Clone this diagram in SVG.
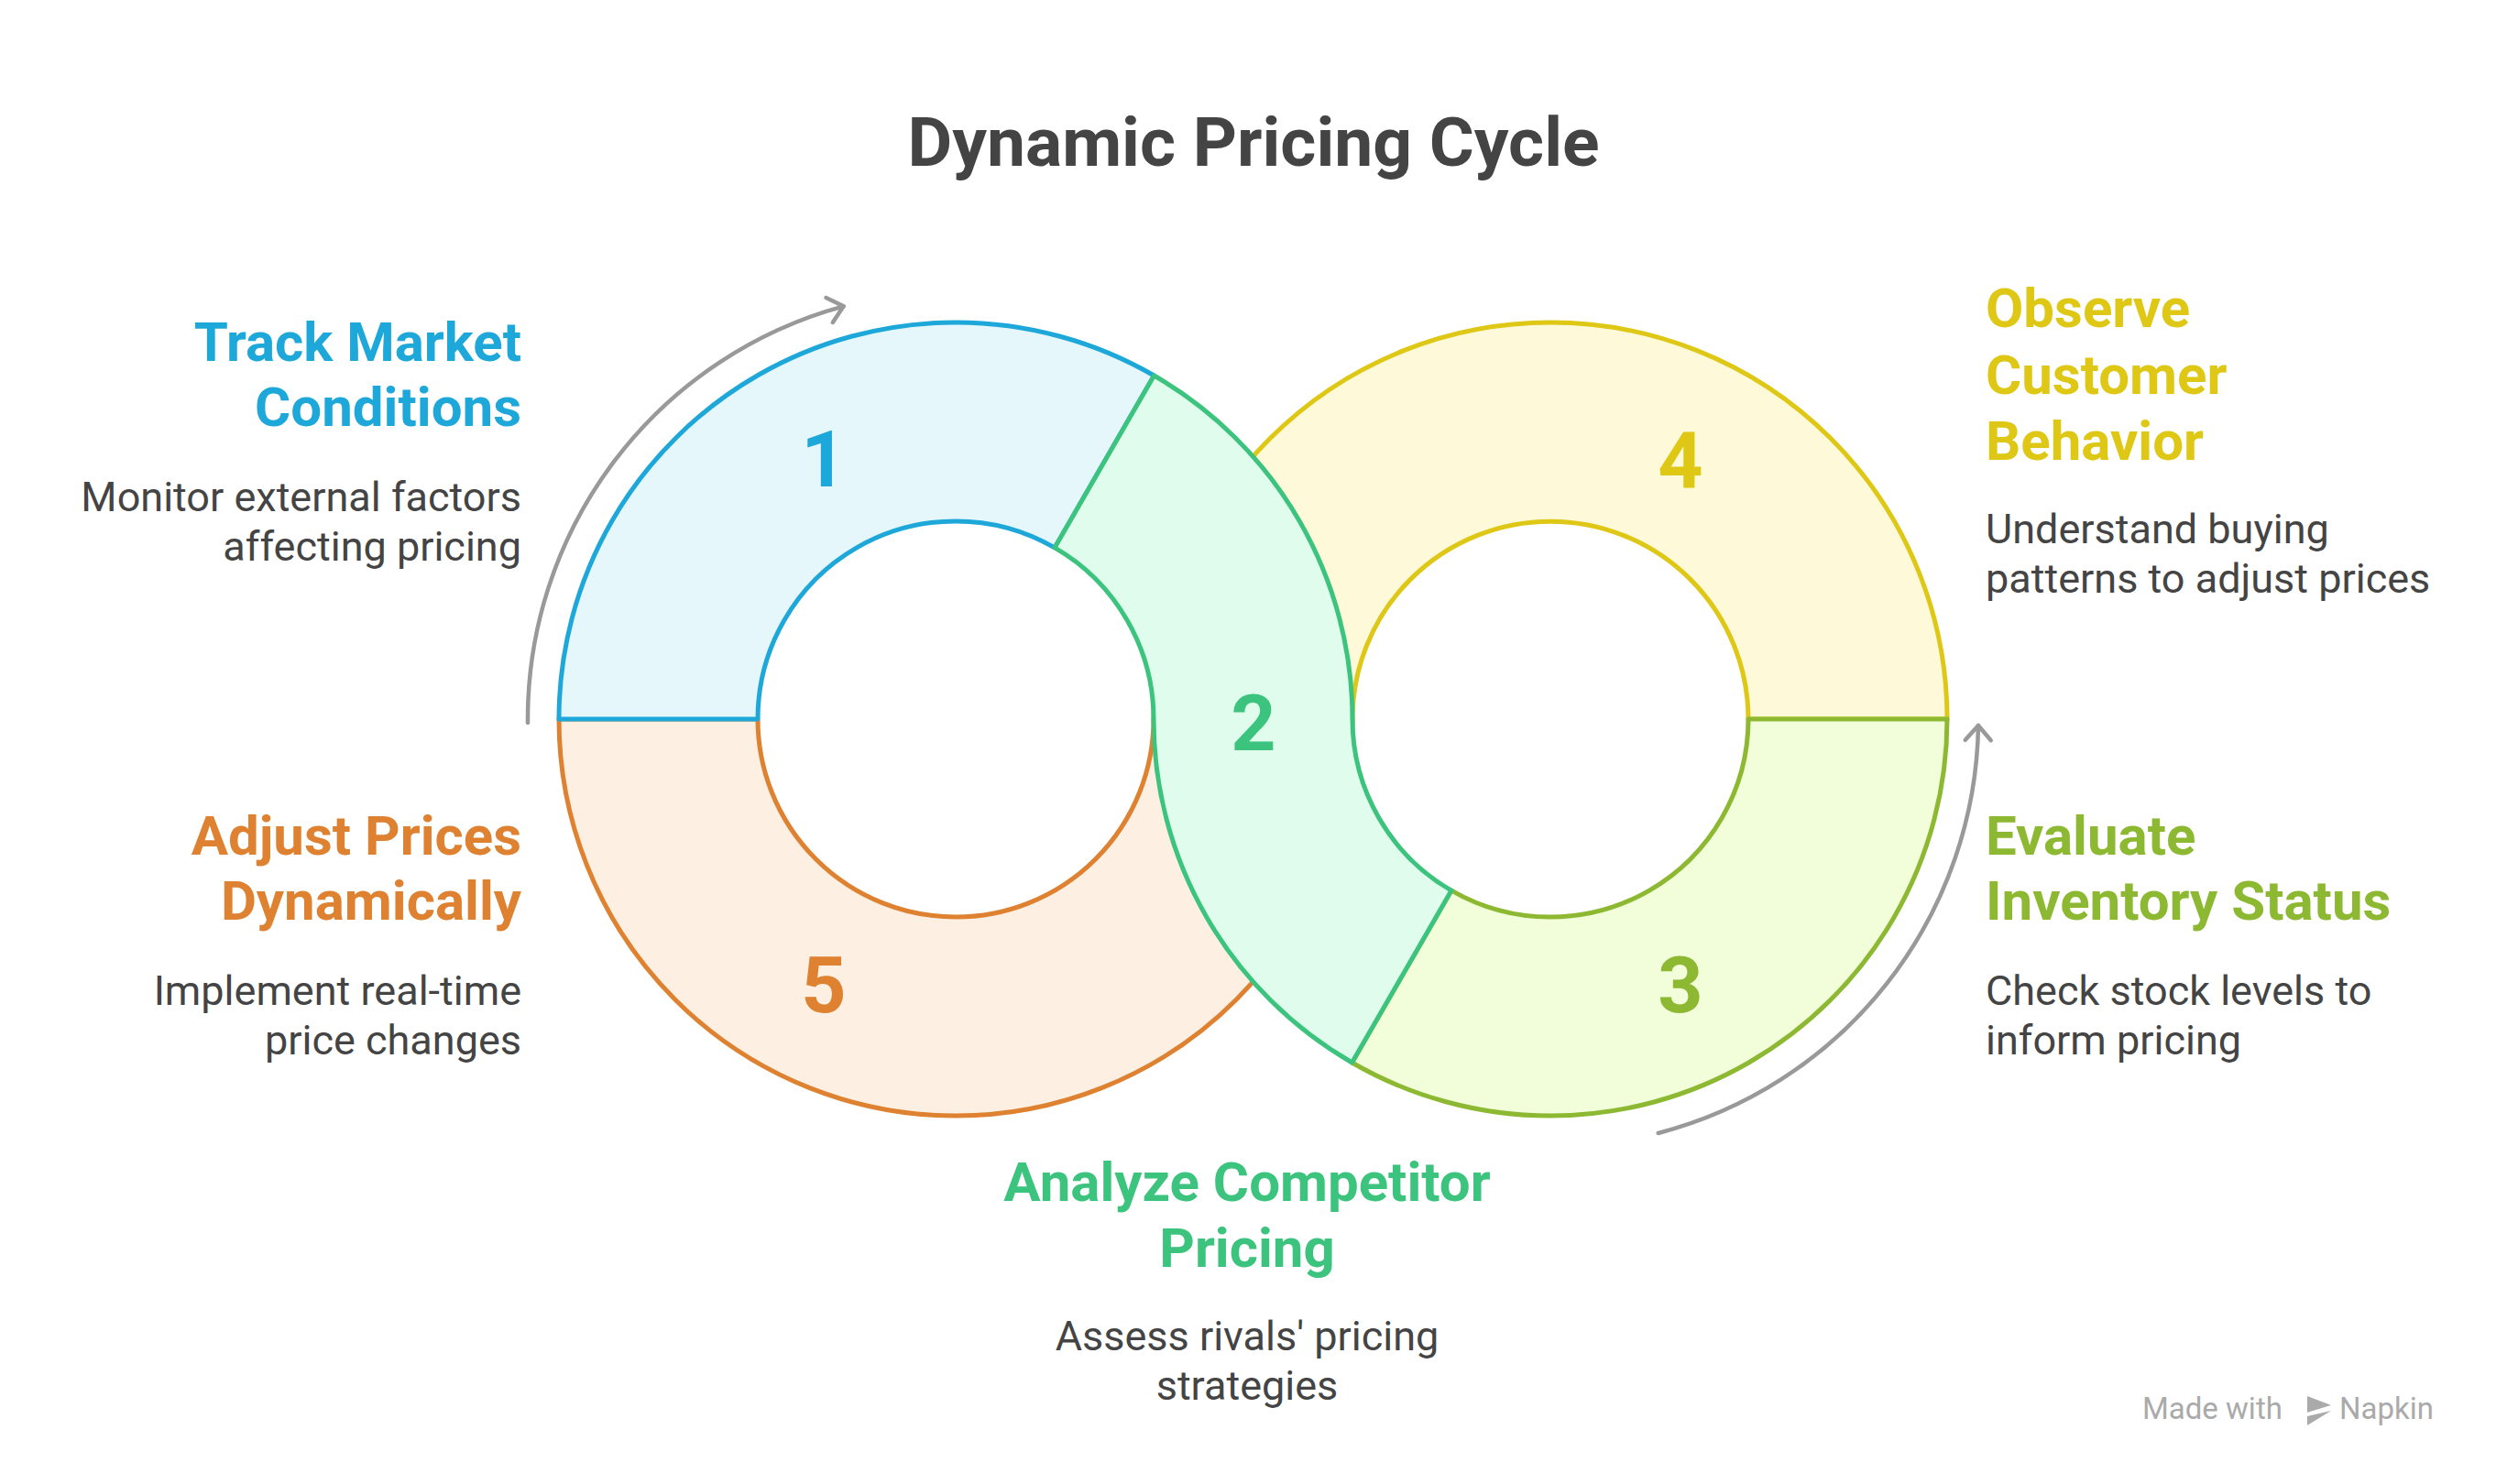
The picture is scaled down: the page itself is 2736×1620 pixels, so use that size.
<svg xmlns="http://www.w3.org/2000/svg" width="2736" height="1620" viewBox="0 0 2736 1620">
<style>
text{font-family:Roboto,"Liberation Sans",sans-serif}
.seg{stroke-width:5;stroke-linejoin:round}
.num{font-size:86px;font-weight:bold;text-anchor:middle}
.h{font-size:60px;font-weight:bold}
.d{font-size:45px;fill:#444}
.r{text-anchor:end}
.c{text-anchor:middle}
.arc{fill:none;stroke:#999;stroke-width:4.5;stroke-linecap:round}
</style>
<defs>
<marker id="chev" viewBox="-20 -20 40 40" markerWidth="40" markerHeight="40" refX="0" refY="0" orient="auto" markerUnits="userSpaceOnUse">
<path d="M-16,-14 L0,0 L-16,14" fill="none" stroke="#999" stroke-width="4.5" stroke-linecap="round" stroke-linejoin="round"/>
</marker>
</defs>
<rect width="2736" height="1620" fill="#fff"/>
<text x="1368" y="181" class="c" style="font-size:75px;font-weight:bold;fill:#444">Dynamic Pricing Cycle</text>
<g id="connectors">
<path class="arc" d="M576,789 A467,467 0 0 1 920.6,334.3" marker-end="url(#chev)"/>
<path class="arc" d="M1809.7,1237 A467,467 0 0 0 2159,792" marker-end="url(#chev)"/>
</g>
<g id="node5">
<path class="seg" fill="#FDF0E3" stroke="#DE8231" d="M610,785 A433,433 0 0 0 1476,785 L1259,785 A216,216 0 0 1 827,785 Z"/>
<text x="899" y="1105" class="num" fill="#DE8231">5</text>
<text x="569" y="933" class="h r" fill="#DE8231">Adjust Prices</text>
<text x="569" y="1004" class="h r" fill="#DE8231">Dynamically</text>
<text x="569" y="1097" class="d r">Implement real-time</text>
<text x="569" y="1151" class="d r">price changes</text>
</g>
<g id="node4">
<path class="seg" fill="#FEF9D9" stroke="#DEC715" d="M1259,785 A433,433 0 0 1 2125,785 L1908,785 A216,216 0 0 0 1476,785 Z"/>
<text x="1834" y="532" class="num" fill="#DEC715">4</text>
<text x="2167" y="357" class="h" fill="#DEC715">Observe</text>
<text x="2167" y="430" class="h" fill="#DEC715">Customer</text>
<text x="2167" y="502" class="h" fill="#DEC715">Behavior</text>
<text x="2167" y="593" class="d">Understand buying</text>
<text x="2167" y="647" class="d">patterns to adjust prices</text>
</g>
<g id="node1">
<path class="seg" fill="#E6F7FC" stroke="#1EA8DA" d="M827,785 L610,785 A433,433 0 0 1 1259.5,410 L1151,597.9 A216,216 0 0 0 827,785 Z"/>
<text x="899" y="531" class="num" fill="#1EA8DA">1</text>
<text x="569" y="394" class="h r" fill="#1EA8DA">Track Market</text>
<text x="569" y="465" class="h r" fill="#1EA8DA">Conditions</text>
<text x="569" y="558" class="d r">Monitor external factors</text>
<text x="569" y="612" class="d r">affecting pricing</text>
</g>
<g id="node3">
<path class="seg" fill="#F2FDD9" stroke="#8DB832" d="M2125,785 A433,433 0 0 1 1475.5,1160 L1584,972.1 A216,216 0 0 0 1908,785 Z"/>
<text x="1834" y="1105" class="num" fill="#8DB832">3</text>
<text x="2167" y="933" class="h" fill="#8DB832">Evaluate</text>
<text x="2167" y="1004" class="h" fill="#8DB832">Inventory Status</text>
<text x="2167" y="1097" class="d">Check stock levels to</text>
<text x="2167" y="1151" class="d">inform pricing</text>
</g>
<g id="node2">
<path class="seg" fill="#E0FCEC" stroke="#3CC47F" d="M1151,597.9 L1259.5,410 A433,433 0 0 1 1476,785 A216,216 0 0 0 1584,972.1 L1475.5,1160 A433,433 0 0 1 1259,785 A216,216 0 0 0 1151,597.9 Z"/>
<text x="1368" y="819" class="num" fill="#3CC47F">2</text>
<text x="1361" y="1311" class="h c" fill="#3CC47F">Analyze Competitor</text>
<text x="1361" y="1383" class="h c" fill="#3CC47F">Pricing</text>
<text x="1361" y="1474" class="d c">Assess rivals' pricing</text>
<text x="1361" y="1528" class="d c">strategies</text>
</g>
<g id="footer">
<text x="2338" y="1549" style="font-size:33px;fill:#aaa">Made with</text>
<path d="M2518,1524 L2544,1534 L2518,1542 Z M2518,1546 L2544,1540 L2518,1556 Z" fill="#aaa"/>
<text x="2553" y="1549" style="font-size:33px;fill:#aaa">Napkin</text>
</g>
</svg>
